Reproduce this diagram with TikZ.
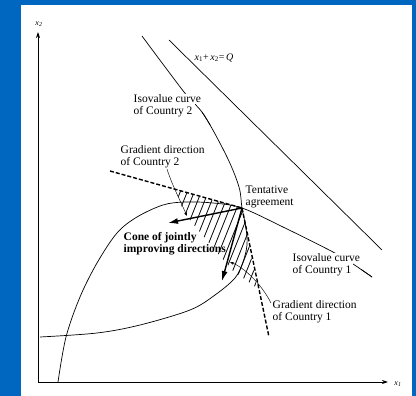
\documentclass[tikz,border=0pt]{standalone}
\usepackage{fontspec}
\setmainfont{Liberation Serif}
\usetikzlibrary{arrows.meta}
\definecolor{frameblue}{RGB}{0,103,192}
\def\CurveOne{plot[smooth,tension=0.55] coordinates {(58,382) (66,337) (80,297) (97,263) (117,233) (137,217) (163,205) (185,202) (213,203) (242,208) (283,227) (333,252) (353,264) (372,277)}}
\def\CurveTwo{plot[smooth,tension=0.55] coordinates {(142,36) (184,92) (204,115) (227,157) (239,187) (242,208) (246,228) (247,245) (243,262) (235,278) (215,295) (190,310) (140,325) (97,333) (40,337)}}
\begin{document}
\begin{tikzpicture}[x=1pt,y=-1pt,
  curve/.style={line width=0.7pt},
  gdash/.style={line width=1.4pt, dash pattern=on 4pt off 2pt},
  garrow/.style={line width=1.4pt, -{Latex[length=10pt,width=6pt]}},
  pointer/.style={line width=0.45pt, -{Stealth[length=4pt,width=3pt]}},
  axis/.style={line width=0.8pt, -{Stealth[length=6pt,width=4pt]}},
  lbl/.style={font=\fontsize{11.5}{12}\selectfont, align=left, inner sep=0.5pt, anchor=west},
  boldlbl/.style={lbl, font=\fontsize{11.5}{12}\selectfont\bfseries},
  hatchline/.style={line width=0.8pt}]
\useasboundingbox (0,0) rectangle (416,396);
\fill[frameblue] (0,0) rectangle (416,396);
\fill[white] (21,5) rectangle (412,396);

% axes
\coordinate (O) at (38,382);
\coordinate (Xend) at (388,382);
\coordinate (Yend) at (38,32);
\draw[axis] (O) -- (Xend);
\draw[axis] (O) -- (Yend);
\node[font=\fontsize{8}{9}\selectfont\itshape] (x2lab) at (39,24) {x\textsubscript{2}};
\node[font=\fontsize{8}{9}\selectfont\itshape] (x1lab) at (398,384) {x\textsubscript{1}};

% budget line
\coordinate (Q1) at (169,40);
\coordinate (Q2) at (382,250);
\draw[curve] (Q1) -- (Q2);
\node[lbl, font=\fontsize{10}{12}\selectfont] (qlab) at (194,58) {\textit{x}\textsubscript{1}+\,\textit{x}\textsubscript{2}=\,\textit{Q}};

\coordinate (A) at (242,208);

% hatched cone
\begin{scope}
\clip (A) -- (176,190) -- (184,213) -- (215,250) -- (232,270) -- (257,288) -- cycle;
\foreach \i in {0,...,20} \draw[hatchline] (130+7*\i,300) -- (210+7*\i,100);
\end{scope}

% isovalue curves
\draw[curve] \CurveOne;
\draw[curve] \CurveTwo;

% dashed tangent lines
\coordinate (D2) at (110,171);
\coordinate (D1) at (269,337);
\draw[gdash] (D2) -- (A);
\draw[gdash] (A) -- (D1);

% gradient arrows
\coordinate (G2) at (168,223);
\coordinate (G1) at (222,281);
\draw[garrow] (A) -- (G2);
\draw[garrow] (A) -- (G1);

% labels
\node[lbl, fill=white] (iso2) at (133,106) {Isovalue curve\\of Country 2};
\begin{scope}
\clip (195,105) rectangle (215,125);
\draw[curve] \CurveTwo;
\end{scope}
\node[lbl, fill=white] (iso1) at (292,265) {Isovalue curve\\of Country 1};
\begin{scope}
\clip (353,262) rectangle (380,285);
\draw[curve] \CurveOne;
\end{scope}
\node[lbl] (grad2) at (120,157) {Gradient direction\\of Country 2};
\node[lbl] (grad1) at (272,312) {Gradient direction\\of Country 1};
\node[lbl] (tent) at (245,197) {Tentative\\agreement};
\node[boldlbl] (cone) at (123,244) {Cone of jointly\\improving directions};

% pointers
\coordinate (P2s) at (167,169);
\coordinate (P2e) at (187,216);
\draw[pointer] (P2s) .. controls (172,185) and (180,200) .. (P2e);
\coordinate (P1s) at (271,303);
\coordinate (P1e) at (230,262);
\draw[pointer] (P1s) .. controls (262,285) and (245,268) .. (P1e);
\end{tikzpicture}
\end{document}
